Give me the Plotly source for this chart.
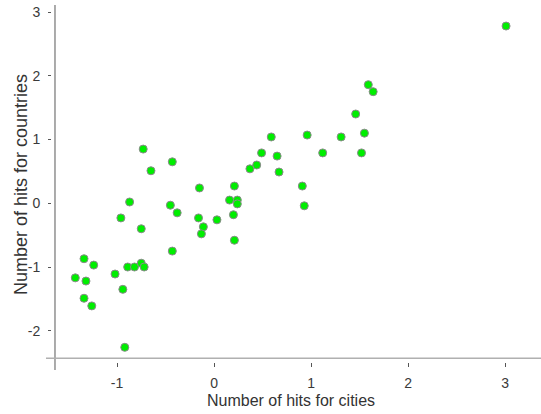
import plotly.graph_objects as go

# Data
cities = [3.01, 1.59, 1.64, 1.46, 0.59, 0.96, 1.31, 1.55, 0.49, 0.65,
          1.12, 1.52, 0.44, 0.37, 0.67, -0.73, -0.65, -0.43, -0.15, 0.21,
          0.91, 0.16, 0.24, 0.24, -0.87, -0.45, 0.93, -0.38, -0.96, -0.16,
          0.03, 0.20, -0.11, -0.13, -0.75, 0.21, -0.43, -1.34, -1.24, -1.43,
          -1.32, -1.34, -1.26, -1.02, -0.94, -0.89, -0.82, -0.75, -0.72, -0.92]
countries = [2.78, 1.86, 1.75, 1.40, 1.04, 1.07, 1.04, 1.10, 0.79, 0.74,
             0.79, 0.79, 0.60, 0.54, 0.49, 0.85, 0.51, 0.65, 0.24, 0.27,
             0.27, 0.05, 0.05, -0.01, 0.02, -0.03, -0.04, -0.15, -0.23, -0.23,
             -0.26, -0.18, -0.37, -0.48, -0.40, -0.58, -0.75, -0.87, -0.97, -1.17,
             -1.22, -1.49, -1.61, -1.11, -1.35, -1.00, -1.00, -0.94, -1.00, -2.26]

x_ticks = [-1, 0, 1, 2, 3]
y_ticks = [-2, -1, 0, 1, 2, 3]
x_title = "Number of hits for cities"
y_title = "Number of hits for countries"

fig = go.Figure()
fig.add_trace(go.Scatter(
    x=cities, y=countries, mode="markers",
    marker=dict(color="#00ee00", size=8, line=dict(color="#8a8a8a", width=1)),
    showlegend=False, hoverinfo="skip"))

font_fam = "Liberation Sans, Arial, sans-serif"
fig.update_layout(
    width=541, height=414,
    margin=dict(l=52, r=0, t=5, b=52),
    paper_bgcolor="white", plot_bgcolor="white",
    font=dict(family=font_fam, color="#3a3a3a"),
    xaxis=dict(range=[-1.67, 3.37], tickvals=x_ticks, ticktext=[str(v) for v in x_ticks],
               showgrid=False, zeroline=False, showline=False, automargin=False,
               ticks="outside", ticklen=4, tickwidth=1, tickcolor="#555",
               ticklabelstandoff=4,
               tickfont=dict(size=14, color="#3a3a3a")),
    yaxis=dict(range=[-2.49, 3.11], tickvals=y_ticks, ticktext=[str(v) for v in y_ticks],
               showgrid=False, zeroline=False, showline=False, automargin=False,
               ticks="outside", ticklen=3, tickwidth=1, tickcolor="#555",
               ticklabelstandoff=5,
               tickfont=dict(size=14, color="#3a3a3a")),
    shapes=[
        dict(type="line", xref="paper", yref="paper", x0=0.0061, x1=0.0061, y0=-0.0224, y1=1.0,
             line=dict(color="#8f8f8f", width=1.5)),
        dict(type="line", xref="paper", yref="paper", x0=-0.0123, x1=1.0, y0=0.0104, y1=0.0104,
             line=dict(color="#b0b0b0", width=1.5)),
    ],
    annotations=[
        dict(text=x_title, xref="paper", yref="paper", x=(291 - 52) / 489, y=-(400 - 362) / 357,
             xanchor="center", yanchor="middle", showarrow=False,
             font=dict(size=16, color="#333")),
        dict(text=y_title, xref="paper", yref="paper", x=-(52 - 21) / 489, y=(362 - 185) / 357,
             xanchor="center", yanchor="middle", showarrow=False, textangle=-90,
             font=dict(size=18, color="#333")),
    ],
)

fig.write_html("out.html", post_script="document.body.style.margin='0';",
               config={"displayModeBar": False})
